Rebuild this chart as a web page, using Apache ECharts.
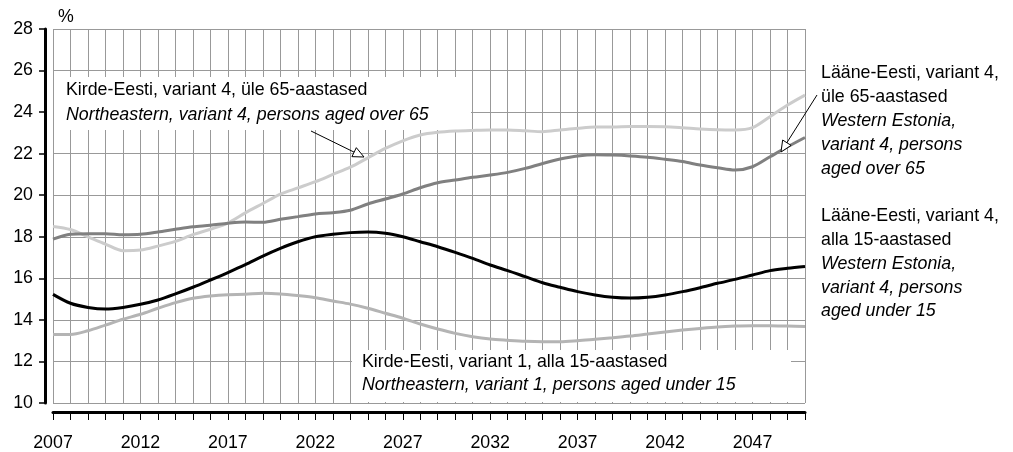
<!DOCTYPE html>
<html>
<head>
<meta charset="utf-8">
<script src="https://cdn.jsdelivr.net/npm/echarts@6/dist/echarts.min.js"></script>
<style>
  html, body { margin: 0; padding: 0; background: #fff; }
  #chart { width: 1013px; height: 452px; }
</style>
</head>
<body>
<div id="chart"></div>
<script>
const years = ['2007','2008','2009','2010','2011','2012','2013','2014','2015','2016',
  '2017','2018','2019','2020','2021','2022','2023','2024','2025','2026',
  '2027','2028','2029','2030','2031','2032','2033','2034','2035','2036',
  '2037','2038','2039','2040','2041','2042','2043','2044','2045','2046',
  '2047','2048','2049','2050'];

// Kirde-Eesti, variant 4, üle 65-aastased
const kirdeOver65 = [18.5, 18.35, 18.0, 17.65, 17.33, 17.36, 17.55, 17.78, 18.1, 18.36,
  18.66, 19.15, 19.6, 20.05, 20.35, 20.65, 21.0, 21.35, 21.8, 22.25,
  22.62, 22.9, 23.03, 23.09, 23.12, 23.14, 23.14, 23.1, 23.06, 23.14,
  23.22, 23.28, 23.28, 23.31, 23.31, 23.3, 23.25, 23.19, 23.15, 23.14,
  23.25, 23.78, 24.34, 24.82];

// Lääne-Eesti, variant 4, üle 65-aastased
const laaneOver65 = [17.89, 18.12, 18.15, 18.15, 18.1, 18.12, 18.23, 18.36, 18.48, 18.55,
  18.65, 18.71, 18.7, 18.84, 18.97, 19.1, 19.16, 19.28, 19.58, 19.82,
  20.06, 20.36, 20.6, 20.73, 20.86, 20.97, 21.1, 21.29, 21.53, 21.74,
  21.89, 21.95, 21.93, 21.89, 21.83, 21.73, 21.62, 21.45, 21.32, 21.21,
  21.37, 21.85, 22.33, 22.78];

// Lääne-Eesti, variant 4, alla 15-aastased
const laaneUnder15 = [15.23, 14.8, 14.6, 14.52, 14.6, 14.75, 14.96, 15.25, 15.57, 15.92,
  16.28, 16.66, 17.07, 17.44, 17.76, 18.0, 18.12, 18.2, 18.23, 18.17,
  18.0, 17.76, 17.52, 17.25, 16.96, 16.64, 16.37, 16.08, 15.79, 15.57,
  15.36, 15.2, 15.09, 15.05, 15.09, 15.2, 15.36, 15.55, 15.76, 15.95,
  16.16, 16.37, 16.48, 16.57];

// Kirde-Eesti, variant 1, alla 15-aastased
const kirdeUnder15 = [13.3, 13.3, 13.48, 13.75, 14.03, 14.27, 14.56, 14.83, 15.04, 15.15,
  15.21, 15.23, 15.28, 15.25, 15.17, 15.07, 14.91, 14.76, 14.56, 14.32,
  14.08, 13.8, 13.56, 13.35, 13.19, 13.08, 13.02, 12.97, 12.95, 12.95,
  13.0, 13.07, 13.14, 13.22, 13.32, 13.42, 13.51, 13.59, 13.66, 13.7,
  13.72, 13.72, 13.7, 13.68];

const FONT = '"Liberation Sans", Arial, sans-serif';
const FS = 17.8;

var chart = echarts.init(document.getElementById('chart'), null, { renderer: 'canvas' });

function txt(x, y, s, italic) {
  return {
    type: 'text', z: 10,
    style: {
      x: x, y: y, text: s,
      font: (italic ? 'italic ' : '') + FS + 'px ' + FONT,
      fill: '#000', verticalAlign: 'middle', align: 'left'
    }
  };
}

// thin line with open triangle head at (x2, y2)
function arrow(x1, y1, x2, y2) {
  var dx = x2 - x1, dy = y2 - y1;
  var len = Math.sqrt(dx * dx + dy * dy);
  var ux = dx / len, uy = dy / len;
  var hl = 11, hw = 5;
  var bx = x2 - ux * hl, by = y2 - uy * hl;
  return [{
    type: 'line', z: 10,
    shape: { x1: x1, y1: y1, x2: bx, y2: by },
    style: { stroke: '#000', lineWidth: 1 }
  }, {
    type: 'polygon', z: 10,
    shape: { points: [[x2, y2], [bx - uy * hw, by + ux * hw], [bx + uy * hw, by - ux * hw]] },
    style: { fill: '#fff', stroke: '#000', lineWidth: 1 }
  }];
}

var graphics = [
  { type: 'rect', z: 1, shape: { x: 54, y: 77, width: 417, height: 53 }, style: { fill: '#fff' } },
  { type: 'rect', z: 1, shape: { x: 352, y: 350, width: 439, height: 52 }, style: { fill: '#fff' } },
  txt(58, 17, '%'),
  txt(66, 90, 'Kirde-Eesti, variant 4, üle 65-aastased'),
  txt(66, 115, 'Northeastern, variant 4, persons aged over 65', true),
  txt(362, 362, 'Kirde-Eesti, variant 1, alla 15-aastased'),
  txt(362, 385, 'Northeastern, variant 1, persons aged under 15', true),
  txt(821, 73, 'Lääne-Eesti, variant 4,'),
  txt(821, 97, 'üle 65-aastased'),
  txt(821, 121, 'Western Estonia,', true),
  txt(821, 145, 'variant 4, persons', true),
  txt(821, 169, 'aged over 65', true),
  txt(821, 216, 'Lääne-Eesti, variant 4,'),
  txt(821, 240, 'alla 15-aastased'),
  txt(821, 264, 'Western Estonia,', true),
  txt(821, 288, 'variant 4, persons', true),
  txt(821, 311, 'aged under 15', true)
].concat(arrow(311, 131, 364, 157)).concat(arrow(817, 95, 781, 152));

option = {
  backgroundColor: '#fff',
  animation: false,
  grid: { left: 53, right: 208, top: 29, bottom: 49, containLabel: false },
  xAxis: {
    type: 'category',
    data: years,
    boundaryGap: false,
    offset: 9,
    axisLine: { show: true, lineStyle: { color: '#000', width: 3 } },
    axisTick: { show: true, interval: 0, length: 8, lineStyle: { color: '#000', width: 1 } },
    axisLabel: { interval: 4, margin: 22, fontSize: FS, fontFamily: FONT, color: '#000' },
    splitLine: { show: true, interval: 0, lineStyle: { color: '#999', width: 1 } }
  },
  yAxis: {
    type: 'value',
    min: 10, max: 28, interval: 2,
    offset: 8,
    axisLine: { show: true, lineStyle: { color: '#000', width: 3 } },
    axisTick: { show: true, length: 6, lineStyle: { color: '#000', width: 1.5 } },
    axisLabel: { margin: 12, fontSize: FS, fontFamily: FONT, color: '#000' },
    splitLine: { show: true, lineStyle: { color: '#999', width: 1 } }
  },
  series: [{
    name: 'Kirde-Eesti, variant 4, üle 65-aastased',
    type: 'line', z: 3, smooth: 0.3, showSymbol: false,
    lineStyle: { color: '#cccccc', width: 3 },
    data: kirdeOver65
  }, {
    name: 'Lääne-Eesti, variant 4, üle 65-aastased',
    type: 'line', z: 3, smooth: 0.3, showSymbol: false,
    lineStyle: { color: '#808080', width: 3 },
    data: laaneOver65
  }, {
    name: 'Kirde-Eesti, variant 1, alla 15-aastased',
    type: 'line', z: 3, smooth: 0.3, showSymbol: false,
    lineStyle: { color: '#b4b4b4', width: 3 },
    data: kirdeUnder15
  }, {
    name: 'Lääne-Eesti, variant 4, alla 15-aastased',
    type: 'line', z: 4, smooth: 0.3, showSymbol: false,
    lineStyle: { color: '#000', width: 3 },
    data: laaneUnder15
  }],
  graphic: { elements: graphics }
};

chart.setOption(option);
</script>
</body>
</html>
